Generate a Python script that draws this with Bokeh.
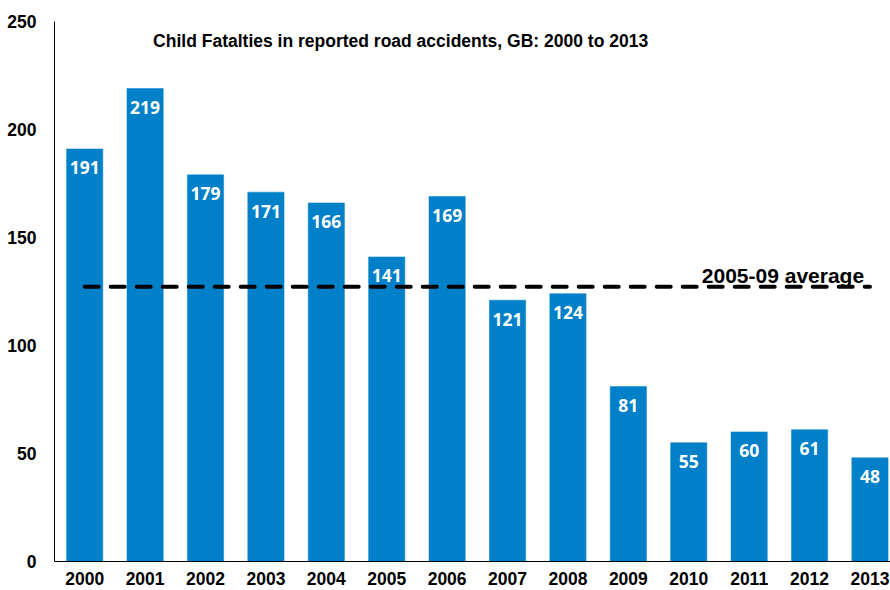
from bokeh.plotting import figure
from bokeh.models import ColumnDataSource, Range1d, FixedTicker, Label
from bokeh.core.properties import value
from bokeh.embed import file_html
from bokeh.resources import INLINE

years = [2000, 2001, 2002, 2003, 2004, 2005, 2006, 2007, 2008, 2009, 2010, 2011, 2012, 2013]
fatalities = [191, 219, 179, 171, 166, 141, 169, 121, 124, 81, 55, 60, 61, 48]
y_ticks = [0, 50, 100, 150, 200, 250]
title_text = "Child Fatalties in reported road accidents, GB: 2000 to 2013"
avg_label = "2005-09  average"

avg_years = [y for y in years if 2005 <= y <= 2009]
avg_value = sum(f for y, f in zip(years, fatalities) if y in avg_years) / len(avg_years)

src = ColumnDataSource(data=dict(
    x=years,
    top=fatalities,
    label=[str(v) for v in fatalities],
))

p = figure(width=890, height=590, output_backend="svg", toolbar_location=None,
           x_range=Range1d(years[0] - 0.5, years[-1] + 0.34),
           y_range=Range1d(0, 250),
           min_border_left=54, min_border_right=0, min_border_top=21, min_border_bottom=29)
p.outline_line_color = None
p.xgrid.visible = False
p.ygrid.visible = False
p.background_fill_color = "white"

p.vbar(x="x", top="top", bottom=0, width=0.6, source=src,
       fill_color="#0080C8", line_color="#0080C8", line_width=0.5)

p.text(x="x", y="top", text="label", source=src,
       text_color="white", text_font=value("Open Sans"), text_font_style="bold",
       text_font_size="17.5px", text_align="center", text_baseline="middle",
       y_offset=19)

p.line(x=[years[0], years[-1]], y=[avg_value, avg_value], line_color="black",
       line_width=4, line_dash="14 12", line_cap="round")

p.add_layout(Label(x=years[-1], y=avg_value, text=avg_label, text_align="right",
                   text_baseline="alphabetic", y_offset=11,
                   text_font="Liberation Sans", text_font_style="bold",
                   text_font_size="21px", text_color="black"))

p.add_layout(Label(x=2005.23, y=240.8, text=title_text, text_align="center",
                   text_baseline="alphabetic",
                   text_font="Liberation Sans", text_font_style="bold",
                   text_font_size="17.5px", text_color="black"))

p.xaxis.ticker = FixedTicker(ticks=years)
p.yaxis.ticker = FixedTicker(ticks=y_ticks)
for ax in (p.xaxis[0], p.yaxis[0]):
    ax.major_tick_line_color = None
    ax.minor_tick_line_color = None
    ax.axis_line_color = "black"
    ax.axis_line_width = 1
    ax.major_label_text_font = "Liberation Sans"
    ax.major_label_text_font_style = "bold"
    ax.major_label_text_font_size = "17.5px"
    ax.major_label_text_color = "black"
p.xaxis.major_label_standoff = 4
p.yaxis.major_label_standoff = 12

open("out.html", "w").write(file_html(p, INLINE))
